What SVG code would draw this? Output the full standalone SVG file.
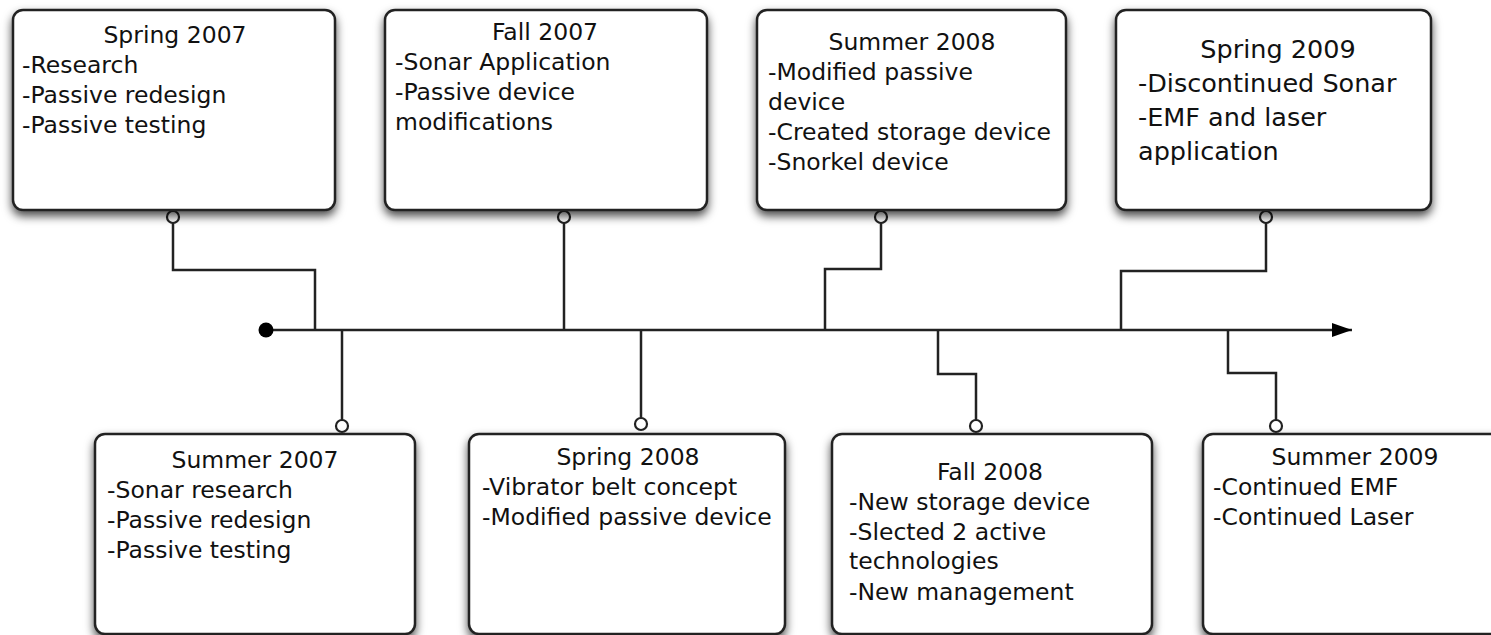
<svg xmlns="http://www.w3.org/2000/svg" width="1491" height="635" viewBox="0 0 1491 635">
<defs>
<filter id="sh" x="-10%" y="-10%" width="120%" height="130%">
<feDropShadow dx="0" dy="5" stdDeviation="5" flood-color="#000" flood-opacity="0.7"/>
</filter>
<marker id="arr" markerWidth="20" markerHeight="14" refX="20" refY="7" orient="auto" markerUnits="userSpaceOnUse">
<path d="M0,0 L20,7 L0,14 Z" fill="#000"/>
</marker>
</defs>
<style>
.box{fill:#fff;stroke:#222;stroke-width:2.5;filter:url(#sh)}
text{font-family:"DejaVu Sans",sans-serif;font-size:23.5px;fill:#111}
.t{text-anchor:middle}
.big{font-size:25.5px}
.c{fill:none;stroke:#222;stroke-width:2.5}
.o{fill:#fff;stroke:#222;stroke-width:2.2}
</style>
<rect width="1491" height="635" fill="#fff"/>
<g id="connectors">
<line x1="266" y1="330" x2="1352" y2="330" class="c" marker-end="url(#arr)"/>
<circle cx="266" cy="330" r="7.5" fill="#000"/>
<polyline class="c" points="173,223 173,270 315,270 315,330"/>
<circle class="o" cx="173" cy="217" r="6"/>
<polyline class="c" points="342,330 342,420"/>
<circle class="o" cx="342" cy="426" r="6"/>
<polyline class="c" points="564,223 564,330"/>
<circle class="o" cx="564" cy="217" r="6"/>
<polyline class="c" points="641,330 641,418"/>
<circle class="o" cx="641" cy="424" r="6"/>
<polyline class="c" points="881,223 881,269 825,269 825,330"/>
<circle class="o" cx="881" cy="217" r="6"/>
<polyline class="c" points="938,330 938,374 976,374 976,420"/>
<circle class="o" cx="976" cy="426" r="6"/>
<polyline class="c" points="1266,223 1266,271 1121,271 1121,330"/>
<circle class="o" cx="1266" cy="217" r="6"/>
<polyline class="c" points="1228,330 1228,373 1276,373 1276,420"/>
<circle class="o" cx="1276" cy="426" r="6"/>
</g>
<g id="spring2007">
<rect class="box" x="13" y="10" width="322" height="200" rx="10"/>
<text class="t" x="175" y="43">Spring 2007</text>
<text x="22" y="73">-Research</text>
<text x="22" y="103">-Passive redesign</text>
<text x="22" y="133">-Passive testing</text>
</g>
<g id="fall2007">
<rect class="box" x="385" y="10" width="322" height="200" rx="10"/>
<text class="t" x="545" y="40">Fall 2007</text>
<text x="395" y="70">-Sonar Application</text>
<text x="395" y="100">-Passive device</text>
<text x="395" y="130">modifications</text>
</g>
<g id="summer2008">
<rect class="box" x="757" y="10" width="309" height="200" rx="10"/>
<text class="t" x="912" y="50">Summer 2008</text>
<text x="768" y="80">-Modified passive</text>
<text x="768" y="110">device</text>
<text x="768" y="140">-Created storage device</text>
<text x="768" y="170">-Snorkel device</text>
</g>
<g id="spring2009">
<rect class="box" x="1116" y="10" width="315" height="200" rx="10"/>
<text class="t big" x="1278" y="58">Spring 2009</text>
<text class="big" x="1138" y="92">-Discontinued Sonar</text>
<text class="big" x="1138" y="126">-EMF and laser</text>
<text class="big" x="1138" y="160">application</text>
</g>
<g id="summer2007">
<rect class="box" x="95" y="434" width="320" height="200" rx="10"/>
<text class="t" x="255" y="468">Summer 2007</text>
<text x="107" y="498">-Sonar research</text>
<text x="107" y="528">-Passive redesign</text>
<text x="107" y="558">-Passive testing</text>
</g>
<g id="spring2008">
<rect class="box" x="469" y="434" width="316" height="200" rx="10"/>
<text class="t" x="628" y="465">Spring 2008</text>
<text x="482" y="495">-Vibrator belt concept</text>
<text x="482" y="525">-Modified passive device</text>
</g>
<g id="fall2008">
<rect class="box" x="832" y="434" width="320" height="200" rx="10"/>
<text class="t" x="990" y="480">Fall 2008</text>
<text x="849" y="510">-New storage device</text>
<text x="849" y="540">-Slected 2 active</text>
<text x="849" y="569">technologies</text>
<text x="849" y="600">-New management</text>
</g>
<g id="summer2009">
<rect class="box" x="1203" y="434" width="310" height="200" rx="10"/>
<text class="t" x="1355" y="465">Summer 2009</text>
<text x="1213" y="495">-Continued EMF</text>
<text x="1213" y="525">-Continued Laser</text>
</g>
</svg>
